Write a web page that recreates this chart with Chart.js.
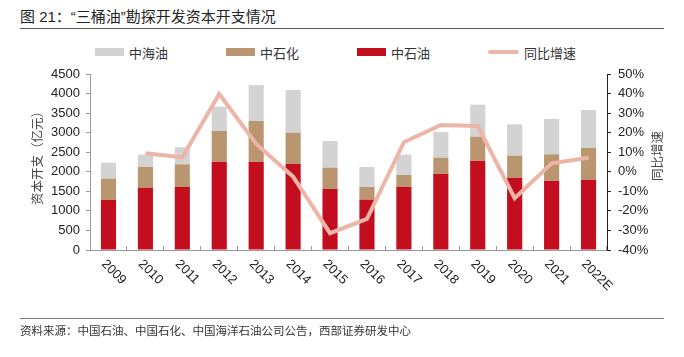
<!DOCTYPE html>
<html><head><meta charset="utf-8">
<script src="https://cdn.jsdelivr.net/npm/chart.js@4/dist/chart.umd.min.js"></script>
<style>
body{margin:0;background:#fff;}
#wrap{position:relative;width:684px;height:357px;overflow:hidden;font-family:"Liberation Sans","Noto Sans CJK SC",sans-serif;}
#title{position:absolute;left:20px;top:5px;font-size:15px;color:#222;font-family:"Liberation Sans","Noto Sans CJK SC",sans-serif;white-space:nowrap;}
#rule1{position:absolute;left:20px;top:28px;width:644px;height:0;border-top:1.5px solid #555;}
#rule2{position:absolute;left:20px;top:318px;width:644px;height:0;border-top:1px solid #777;}
#src{position:absolute;left:20px;top:322px;font-size:11.5px;color:#333;font-family:"Noto Sans CJK SC",sans-serif;white-space:nowrap;}
.lg{position:absolute;top:44px;height:16px;display:flex;align-items:center;font-size:13px;color:#333;font-family:"Noto Sans CJK SC",sans-serif;white-space:nowrap;}
.lg span.sw{display:inline-block;width:29px;margin-right:5px;}
canvas{position:absolute;left:0;top:0;}
</style></head>
<body>
<div id="wrap">
  <div id="title">图 21：“三桶油”勘探开发资本开支情况</div>
  <div id="rule1"></div>
  <div id="legend"></div>
  <canvas id="c" width="684" height="357"></canvas>
  <div id="rule2"></div>
  <div id="src">资料来源：中国石油、中国石化、中国海洋石油公司公告，西部证券研发中心</div>
</div>
<script>
const categories = ['2009','2010','2011','2012','2013','2014','2015','2016','2017','2018','2019','2020','2021','2022E'];
const petrochina = [1278,1593,1611,2258,2250,2199,1560,1287,1611,1943,2284,1849,1773,1798];
const sinopec    = [545,529,580,785,1048,800,545,324,307,418,614,563,673,810];
const cnooc      = [409,315,435,621,921,1092,682,511,519,656,818,801,903,972];
const growth     = [null,9.5,7.4,39.8,14.2,-2.5,-31.4,-24.1,15.1,23.9,23.4,-13.5,4.3,7.2];
const seriesNames = ['中石油','中石化','中海油','同比增速'];
const leftAxisTitle = '资本开支（亿元）';
const rightAxisTitle = '同比增速';

const C_RED='#C20E1E', C_TAN='#B99570', C_GRAY='#D3D3D3', C_LINE='#EDB5A8';

const customText = {
  id:'customText',
  afterDraw(chart){
    const ctx = chart.ctx, xs = chart.scales.x, ca = chart.chartArea;
    ctx.save();
    ctx.font = '13px "Liberation Sans", Arial, sans-serif';
    ctx.fillStyle = '#222';
    ctx.textAlign = 'left';
    ctx.textBaseline = 'middle';
    categories.forEach((c,i)=>{
      const px = xs.getPixelForValue(i);
      ctx.save();
      ctx.translate(px-5, ca.bottom+12);
      ctx.rotate(Math.PI/4);
      ctx.fillText(c,0,0);
      ctx.restore();
    });
    ctx.font = '12.5px "Noto Sans CJK SC", sans-serif';
    ctx.fillStyle = '#444';
    ctx.textAlign = 'center';
    ctx.save();
    ctx.translate(ca.left-53, (ca.top+ca.bottom)/2-7);
    ctx.rotate(-Math.PI/2);
    ctx.fillText(leftAxisTitle,0,0);
    ctx.restore();
    ctx.save();
    ctx.translate(ca.right+50, (ca.top+ca.bottom)/2-6);
    ctx.rotate(-Math.PI/2);
    ctx.fillText(rightAxisTitle,0,0);
    ctx.restore();
    ctx.restore();
  }
};

const tickFont = {size:13, family:'"Liberation Sans", Arial, sans-serif'};

const chart = new Chart(document.getElementById('c'), {
  data:{
    labels: categories,
    datasets:[
      {type:'bar', label:seriesNames[0], data:petrochina, backgroundColor:C_RED, yAxisID:'y', order:1, stack:'s'},
      {type:'bar', label:seriesNames[1], data:sinopec, backgroundColor:C_TAN, yAxisID:'y', order:1, stack:'s'},
      {type:'bar', label:seriesNames[2], data:cnooc, backgroundColor:C_GRAY, yAxisID:'y', order:1, stack:'s'},
      {type:'line', label:seriesNames[3], data:growth, borderColor:C_LINE, backgroundColor:C_LINE, borderWidth:4, pointRadius:0, tension:0, yAxisID:'y1', order:0}
    ]
  },
  options:{
    responsive:false,
    animation:false,
    datasets:{bar:{barPercentage:0.41, categoryPercentage:1}},
    layout:{padding:{top:74,bottom:87,left:0,right:0}},
    plugins:{legend:{display:false}, tooltip:{enabled:false}},
    scales:{
      x:{stacked:true, offset:true,
         grid:{offset:true, drawOnChartArea:false, drawTicks:true, tickLength:-4, color:'#999'},
         border:{color:'#999', width:1},
         ticks:{display:false},
         afterFit(s){s.height=20;}},
      y:{stacked:true, position:'left', min:0, max:4500,
         ticks:{stepSize:500, padding:6, color:'#222', font:tickFont, callback:v=>String(v)},
         grid:{drawOnChartArea:false, tickLength:4, color:'#999'},
         border:{color:'#999'},
         afterFit(s){s.width=90;}},
      y1:{position:'right', min:-40, max:50,
         ticks:{stepSize:10, padding:7, color:'#222', font:tickFont, callback:v=>v+'%'},
         grid:{drawOnChartArea:false, tickLength:4, color:'#222'},
         border:{color:'#222'},
         afterFit(s){s.width=77;}}
    }
  },
  plugins:[customText]
});

// HTML legend built from the datasets
const legendOrder = [2,1,0,3];
const lg = document.getElementById('legend');
legendOrder.forEach((di,k)=>{
  const ds = chart.data.datasets[di];
  const el = document.createElement('div');
  el.className = 'lg';
  el.style.left = (95 + k*131) + 'px';
  const sw = document.createElement('span');
  sw.className = 'sw';
  if (ds.type === 'line') { sw.style.height='4px'; sw.style.borderRadius='2px'; sw.style.background=ds.borderColor; sw.style.width='31px'; }
  else { sw.style.height='8px'; sw.style.background=ds.backgroundColor; }
  el.appendChild(sw);
  el.appendChild(document.createTextNode(ds.label));
  lg.appendChild(el);
});
</script>
</body></html>
